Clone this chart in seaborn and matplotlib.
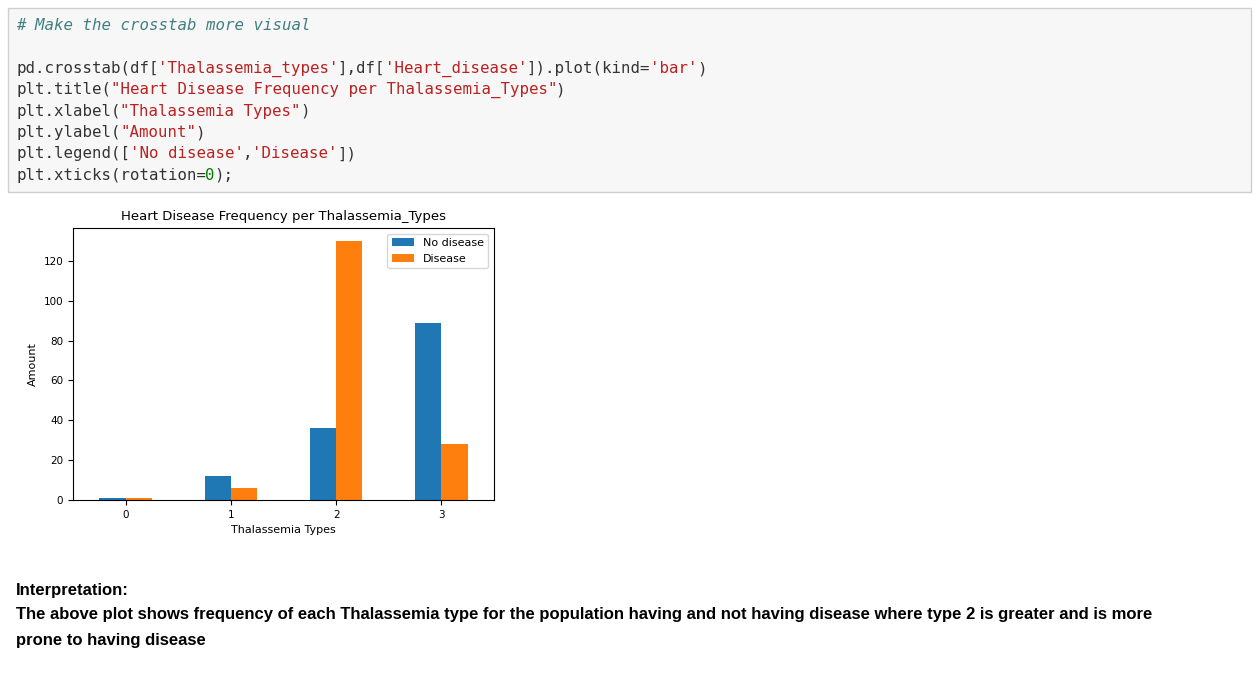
import re
import pandas as pd
import matplotlib.pyplot as plt
import seaborn as sns
from matplotlib.patches import FancyBboxPatch

# crosstab values
thal_types = ['0', '1', '2', '3']
no_disease = [1, 12, 36, 89]
disease = [1, 6, 130, 28]
legend_labels = ['No disease', 'Disease']

code_lines = [
    "# Make the crosstab more visual",
    "",
    "pd.crosstab(df['Thalassemia_types'],df['Heart_disease']).plot(kind='bar')",
    "plt.title(\"Heart Disease Frequency per Thalassemia_Types\")",
    "plt.xlabel(\"Thalassemia Types\")",
    "plt.ylabel(\"Amount\")",
    "plt.legend(['No disease','Disease'])",
    "plt.xticks(rotation=0);",
]

df = pd.DataFrame({
    'type': thal_types * 2,
    'count': no_disease + disease,
    'status': [legend_labels[0]] * 4 + [legend_labels[1]] * 4,
})

W, H = 1256, 700
fig = plt.figure(figsize=(W / 100, H / 100), dpi=100)

# code cell background
fig.patches.append(FancyBboxPatch((8 / W, 1 - 192 / H), 1243 / W, 184 / H,
                                  boxstyle='square,pad=0', transform=fig.transFigure,
                                  facecolor='#f7f7f7', edgecolor='#cfcfcf', lw=1))

cw = 9.46
y0 = 26
for i, line in enumerate(code_lines):
    y = 1 - (y0 + i * 21.3) / H
    if line.startswith('#'):
        fig.text(16 / W, y, line, family='DejaVu Sans Mono', fontsize=11.3,
                 style='italic', color='#408080', va='center')
        continue
    pos = 0
    for tok in re.findall(r"'[^']*'|\"[^\"]*\"|\d+|[^'\"\d]+", line):
        if tok[0] in "'\"":
            col = '#BA2121'
        elif tok.isdigit():
            col = '#008000'
        elif tok == '=':
            col = '#AA22FF'
        else:
            col = '#333333'
        fig.text((16 + pos * cw) / W, y, tok, family='DejaVu Sans Mono',
                 fontsize=11.3, color=col, va='center')
        pos += len(tok)

ax = fig.add_axes([73 / W, 1 - 500 / H, 421 / W, 272 / H])
sns.barplot(data=df, x='type', y='count', hue='status', order=thal_types,
            hue_order=legend_labels, palette=['#1f77b4', '#ff7f0e'],
            width=0.5, saturation=1, ax=ax)
ax.set_title('Heart Disease Frequency per Thalassemia_Types', fontsize=9.5)
ax.set_xlabel('Thalassemia Types', fontsize=8)
ax.set_ylabel('Amount', fontsize=8)
ax.tick_params(labelsize=7.5)
ax.set_ylim(0, 136.5)
ax.set_yticks([0, 20, 40, 60, 80, 100, 120])
ax.legend(title=None, fontsize=8, loc='upper right')

fig.text(16 / W, 1 - 590 / H, 'Interpretation:', family='Liberation Sans',
         fontsize=12, weight='bold', va='center')
fig.text(16 / W, 1 - 615 / H,
         'The above plot shows frequency of each Thalassemia type for the population having and not having disease where type 2 is greater and is more',
         family='Liberation Sans', fontsize=12, weight='bold', va='center')
fig.text(16 / W, 1 - 640 / H, 'prone to having disease', family='Liberation Sans',
         fontsize=12, weight='bold', va='center')

fig.savefig('out.png', dpi=100)
